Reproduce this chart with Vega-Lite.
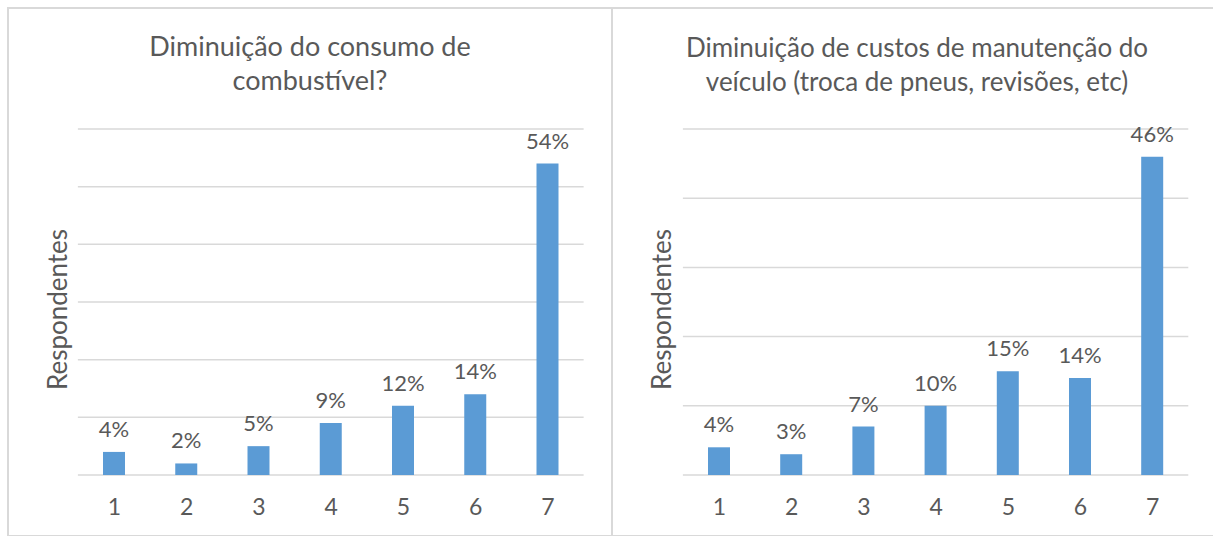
{
  "$schema": "https://vega.github.io/schema/vega-lite/v6.json",
  "padding": {"left": 7, "top": 7, "right": 0, "bottom": 0},
  "background": "white",
  "spacing": 0,
  "bounds": "flush",
  "datasets": {
    "consumo": [
      {"nota": 1, "pct": 0.04},
      {"nota": 2, "pct": 0.02},
      {"nota": 3, "pct": 0.05},
      {"nota": 4, "pct": 0.09},
      {"nota": 5, "pct": 0.12},
      {"nota": 6, "pct": 0.14},
      {"nota": 7, "pct": 0.54}
    ],
    "manutencao": [
      {"nota": 1, "pct": 0.04},
      {"nota": 2, "pct": 0.03},
      {"nota": 3, "pct": 0.07},
      {"nota": 4, "pct": 0.10},
      {"nota": 5, "pct": 0.15},
      {"nota": 6, "pct": 0.14},
      {"nota": 7, "pct": 0.46}
    ],
    "grade_consumo": [{"v": 0}, {"v": 0.1}, {"v": 0.2}, {"v": 0.3}, {"v": 0.4}, {"v": 0.5}, {"v": 0.6}],
    "grade_manutencao": [{"v": 0}, {"v": 0.1}, {"v": 0.2}, {"v": 0.3}, {"v": 0.4}, {"v": 0.5}]
  },
  "hconcat": [
    {
      "width": 604,
      "height": 528,
      "title": {"text": ["Diminuição do consumo de", "combustível?"], "offset": -88},
      "layer": [
        {
          "data": {"name": "grade_consumo"},
          "mark": {"type": "rule", "color": "#d9d9d9", "strokeWidth": 1.5},
          "encoding": {
            "y": {"field": "v", "type": "quantitative", "scale": {"domain": [-0.1058, 0.8098], "nice": false, "zero": false, "padding": 0}, "axis": {"orient": "left", "offset": -58, "labels": false, "ticks": false, "domain": false, "grid": false, "title": "Respondentes", "titlePadding": 0, "titleBaseline": "alphabetic", "titleY": 301}},
            "x": {"datum": 0.5, "type": "quantitative", "scale": {"domain": [-0.4671, 7.8927], "nice": false, "zero": false, "padding": 0}, "axis": {"orient": "bottom", "offset": -22, "values": [1, 2, 3, 4, 5, 6, 7], "format": "d", "labelBaseline": "alphabetic", "labelPadding": 0, "domain": false, "ticks": false, "grid": false, "title": null}},
            "x2": {"datum": 7.5}
          }
        },
        {
          "data": {"name": "consumo"},
          "mark": {"type": "bar", "size": 22, "color": "#5b9bd5"},
          "encoding": {
            "x": {"field": "nota", "type": "quantitative"},
            "y": {"field": "pct", "type": "quantitative"},
            "y2": {"datum": 0}
          }
        },
        {
          "data": {"name": "consumo"},
          "mark": {"type": "text", "baseline": "alphabetic", "dy": -15, "fontSize": 22, "font": "Lato", "color": "#595959"},
          "encoding": {
            "x": {"field": "nota", "type": "quantitative"},
            "y": {"field": "pct", "type": "quantitative"},
            "text": {"field": "pct", "type": "quantitative", "format": ".0%"}
          }
        }
      ]
    },
    {
      "width": 606,
      "height": 528,
      "title": {"text": ["Diminuição de custos de manutenção do", "veículo (troca de pneus, revisões, etc)"], "offset": -88, "dx": 2, "fontSize": 26},
      "layer": [
        {
          "data": {"name": "grade_manutencao"},
          "mark": {"type": "rule", "color": "#d9d9d9", "strokeWidth": 1.5},
          "encoding": {
            "y": {"field": "v", "type": "quantitative", "scale": {"domain": [-0.0882, 0.6749], "nice": false, "zero": false, "padding": 0}, "axis": {"orient": "left", "offset": -58, "labels": false, "ticks": false, "domain": false, "grid": false, "title": "Respondentes", "titlePadding": 0, "titleBaseline": "alphabetic", "titleY": 301}},
            "x": {"datum": 0.5, "type": "quantitative", "scale": {"domain": [-0.482, 7.9114], "nice": false, "zero": false, "padding": 0}, "axis": {"orient": "bottom", "offset": -22, "values": [1, 2, 3, 4, 5, 6, 7], "format": "d", "labelBaseline": "alphabetic", "labelPadding": 0, "domain": false, "ticks": false, "grid": false, "title": null}},
            "x2": {"datum": 7.5}
          }
        },
        {
          "data": {"name": "manutencao"},
          "mark": {"type": "bar", "size": 22, "color": "#5b9bd5"},
          "encoding": {
            "x": {"field": "nota", "type": "quantitative"},
            "y": {"field": "pct", "type": "quantitative"},
            "y2": {"datum": 0}
          }
        },
        {
          "data": {"name": "manutencao"},
          "mark": {"type": "text", "baseline": "alphabetic", "dy": -15, "fontSize": 22, "font": "Lato", "color": "#595959"},
          "encoding": {
            "x": {"field": "nota", "type": "quantitative"},
            "y": {"field": "pct", "type": "quantitative"},
            "text": {"field": "pct", "type": "quantitative", "format": ".0%"}
          }
        }
      ]
    }
  ],
  "config": {
    "view": {"stroke": "#d9d9d9", "strokeWidth": 2},
    "font": "Lato",
    "title": {"font": "Lato", "fontSize": 27, "fontWeight": "normal", "color": "#595959", "anchor": "middle", "frame": "group", "lineHeight": 34},
    "axis": {"labelFont": "Lato", "labelFontSize": 23, "labelColor": "#595959", "titleFont": "Lato", "titleFontSize": 26, "titleFontWeight": "normal", "titleColor": "#595959", "labelAngle": 0}
  }
}
